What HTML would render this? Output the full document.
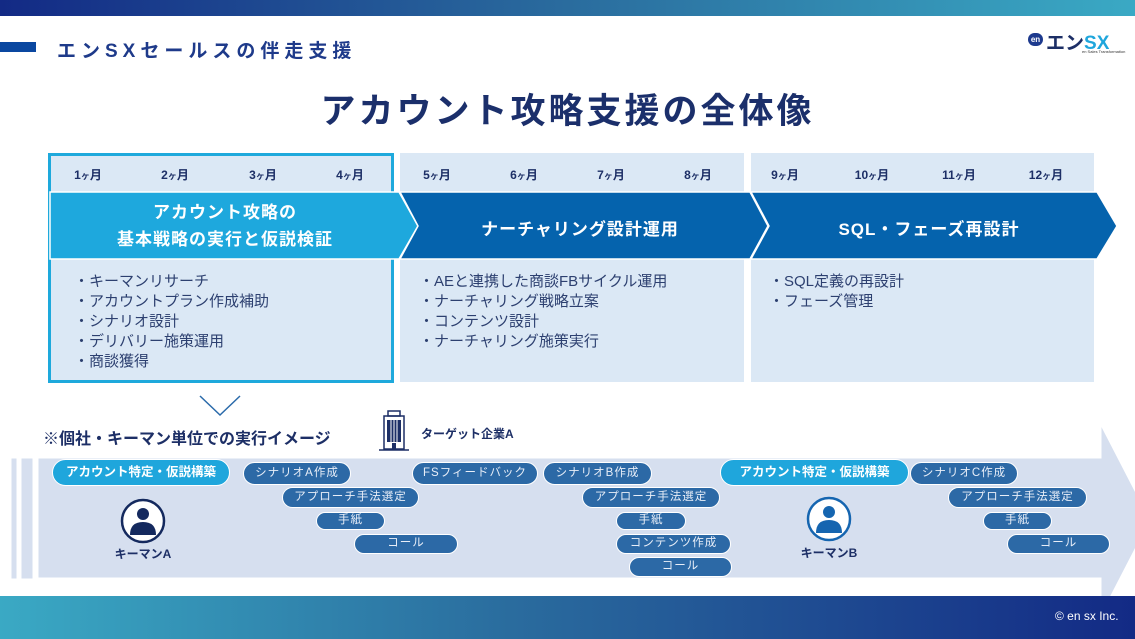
<!DOCTYPE html>
<html><head><meta charset="utf-8">
<style>
*{margin:0;padding:0;box-sizing:border-box}
body{width:1135px;height:639px;position:relative;overflow:hidden;background:#fff;font-family:"Liberation Sans","Noto Sans CJK JP",sans-serif;color:#1d2f66}
.a{position:absolute}
.m{position:absolute;font-size:12px;font-weight:bold;color:#1d2f66;top:166px;width:60px;text-align:center}
.m small{font-size:9px}
.li{position:absolute;font-size:15px;line-height:20px;color:#2d4070}
.p{position:absolute;background:#2c69a6;border:1.5px solid #fff;border-radius:12px;color:#e8eef8;font-size:11.5px;text-align:center;white-space:nowrap;letter-spacing:1px}
.pl{position:absolute;background:#1fa6dc;border:1.5px solid #fff;border-radius:14px;color:#fff;font-size:12.5px;font-weight:bold;text-align:center;line-height:24px}
.kl{position:absolute;font-size:12px;font-weight:bold;color:#1d2f66;width:80px;text-align:center}
</style></head><body>
<div class="a" style="left:0;top:0;width:1135px;height:16px;background:linear-gradient(90deg,#132a85,#2a6c9e 50%,#3aa9c4)"></div>
<div class="a" style="left:0;top:42px;width:36px;height:10px;background:#0a47a0"></div>
<div class="a" style="left:57px;top:36px;font-size:19px;font-weight:bold;color:#1e3a8a;letter-spacing:5px">エンSXセールスの伴走支援</div>
<div class="a" style="left:1028px;top:33px;width:15px;height:13px;border-radius:7px;background:#1d3a8e;color:#fff;font-size:8px;font-weight:bold;text-align:center;line-height:13px">en</div>
<div class="a" style="left:1046px;top:28px;font-size:19px;font-weight:bold;color:#1d2f66">エン<span style="color:#1fa6dc">SX</span></div>
<div class="a" style="left:1082px;top:49px;font-size:4px;color:#333">en Sales Transformation</div>
<div class="a" style="left:0;top:83px;width:1135px;text-align:center;font-size:35px;font-weight:bold;color:#1b2f6b;letter-spacing:3px">アカウント攻略支援の全体像</div>

<div class="a" style="left:48px;top:153px;width:346px;height:230px;background:#dbe8f5;border:3px solid #1ea9dc"></div>
<div class="a" style="left:400px;top:153px;width:344px;height:229px;background:#dbe8f5"></div>
<div class="a" style="left:751px;top:153px;width:343px;height:229px;background:#dbe8f5"></div>

<div class="m" style="left:58px">1<small>ヶ</small>月</div>
<div class="m" style="left:145px">2<small>ヶ</small>月</div>
<div class="m" style="left:233px">3<small>ヶ</small>月</div>
<div class="m" style="left:320px">4<small>ヶ</small>月</div>
<div class="m" style="left:407px">5<small>ヶ</small>月</div>
<div class="m" style="left:494px">6<small>ヶ</small>月</div>
<div class="m" style="left:581px">7<small>ヶ</small>月</div>
<div class="m" style="left:668px">8<small>ヶ</small>月</div>
<div class="m" style="left:755px">9<small>ヶ</small>月</div>
<div class="m" style="left:842px">10<small>ヶ</small>月</div>
<div class="m" style="left:929px">11<small>ヶ</small>月</div>
<div class="m" style="left:1016px">12<small>ヶ</small>月</div>

<svg class="a" style="left:0;top:0" width="1135" height="639">
<polygon points="50,192 399,192 418,226 399,259 50,259" fill="#1ea8dd" stroke="#fff" stroke-width="1.5"/>
<polygon points="400,192 750,192 768,226 750,259 400,259 418,226" fill="#0563ad" stroke="#fff" stroke-width="1.5"/>
<polygon points="751,192 1097,192 1117,226 1097,259 751,259 769,226" fill="#0563ad" stroke="#fff" stroke-width="1.5"/>
<polyline points="200,396 220,415 240,396" fill="none" stroke="#2a6aaa" stroke-width="1.5"/>
<rect x="11" y="458" width="6" height="121" fill="#d6dfef" stroke="#fff"/>
<rect x="21" y="458" width="12" height="121" fill="#d6dfef" stroke="#fff"/>
<polygon points="38,458 1101,458 1101,425 1150,520 1101,615 1101,578 38,578" fill="#d6dfef" stroke="#fff"/>
<g fill="none" stroke="#1d2f66" stroke-width="1.5"><rect x="384" y="416" width="20" height="33"/><rect x="388" y="411" width="12" height="5"/><line x1="379" y1="450" x2="409" y2="450"/></g>
<g fill="#1d2f66"><rect x="387" y="420" width="14" height="22"/><rect x="392" y="443" width="4" height="6"/></g>
<g stroke="#fff" stroke-width="1"><line x1="391" y1="420" x2="391" y2="442"/><line x1="394" y1="420" x2="394" y2="442"/><line x1="397" y1="420" x2="397" y2="442"/></g>
<circle cx="143" cy="521" r="21" fill="#fff" stroke="#14295e" stroke-width="2.5"/>
<circle cx="143" cy="514" r="6" fill="#14295e"/><path d="M130,535 q0,-13 13,-13 q13,0 13,13 z" fill="#14295e"/>
<circle cx="829" cy="519" r="21" fill="#fff" stroke="#1565b0" stroke-width="2.5"/>
<circle cx="829" cy="512" r="6" fill="#1565b0"/><path d="M816,533 q0,-13 13,-13 q13,0 13,13 z" fill="#1565b0"/>
</svg>

<div class="a" style="left:50px;top:199px;width:350px;text-align:center;color:#fff;font-size:17px;font-weight:bold;line-height:27px;letter-spacing:1px">アカウント攻略の<br>基本戦略の実行と仮説検証</div>
<div class="a" style="left:400px;top:215px;width:360px;text-align:center;color:#fff;font-size:17px;font-weight:bold;letter-spacing:1px">ナーチャリング設計運用</div>
<div class="a" style="left:751px;top:215px;width:356px;text-align:center;color:#fff;font-size:17px;font-weight:bold;letter-spacing:1px">SQL・フェーズ再設計</div>

<div class="li" style="left:74px;top:272px">・キーマンリサーチ<br>・アカウントプラン作成補助<br>・シナリオ設計<br>・デリバリー施策運用<br>・商談獲得</div>
<div class="li" style="left:419px;top:272px">・AEと連携した商談FBサイクル運用<br>・ナーチャリング戦略立案<br>・コンテンツ設計<br>・ナーチャリング施策実行</div>
<div class="li" style="left:769px;top:272px">・SQL定義の再設計<br>・フェーズ管理</div>

<div class="a" style="left:43px;top:425px;font-size:16px;font-weight:bold;color:#1d2f66">※個社・キーマン単位での実行イメージ</div>
<div class="a" style="left:421px;top:425px;font-size:12px;font-weight:bold;color:#1d2f66">ターゲット企業A</div>

<div class="pl" style="left:52px;top:459px;width:178px;height:27px">アカウント特定・仮説構築</div>
<div class="pl" style="left:720px;top:459px;width:189px;height:27px">アカウント特定・仮説構築</div>
<div class="p" style="left:243px;top:462px;width:108px;height:23px;line-height:20px">シナリオA作成</div>
<div class="p" style="left:282px;top:487px;width:137px;height:21px;line-height:18px">アプローチ手法選定</div>
<div class="p" style="left:316px;top:512px;width:69px;height:18px;line-height:15px">手紙</div>
<div class="p" style="left:354px;top:534px;width:104px;height:20px;line-height:17px">コール</div>
<div class="p" style="left:412px;top:462px;width:126px;height:23px;line-height:20px">FSフィードバック</div>
<div class="p" style="left:543px;top:462px;width:109px;height:23px;line-height:20px">シナリオB作成</div>
<div class="p" style="left:582px;top:487px;width:138px;height:21px;line-height:18px">アプローチ手法選定</div>
<div class="p" style="left:616px;top:512px;width:70px;height:18px;line-height:15px">手紙</div>
<div class="p" style="left:616px;top:534px;width:115px;height:20px;line-height:17px">コンテンツ作成</div>
<div class="p" style="left:629px;top:557px;width:103px;height:20px;line-height:17px">コール</div>
<div class="p" style="left:910px;top:462px;width:108px;height:23px;line-height:20px">シナリオC作成</div>
<div class="p" style="left:948px;top:487px;width:139px;height:21px;line-height:18px">アプローチ手法選定</div>
<div class="p" style="left:983px;top:512px;width:69px;height:18px;line-height:15px">手紙</div>
<div class="p" style="left:1007px;top:534px;width:103px;height:20px;line-height:17px">コール</div>

<div class="kl" style="left:103px;top:545px">キーマンA</div>
<div class="kl" style="left:789px;top:544px">キーマンB</div>

<div class="a" style="left:0;top:596px;width:1135px;height:43px;background:linear-gradient(90deg,#3aa9c4,#2a6c9e 45%,#132a85)"></div>
<div class="a" style="left:1055px;top:609px;color:#fff;font-size:12px">© en sx Inc.</div>
</body></html>
